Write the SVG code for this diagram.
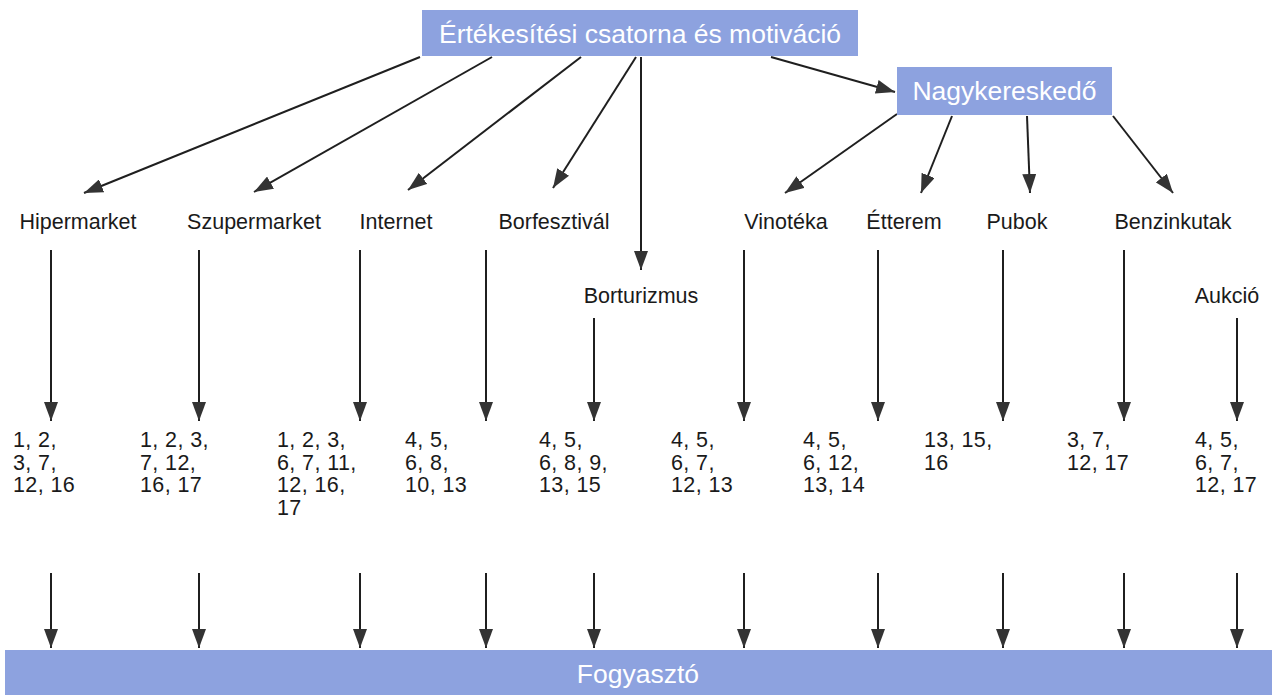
<svg xmlns="http://www.w3.org/2000/svg" width="1272" height="695" viewBox="0 0 1272 695">
<style>
.box{fill:#8da2df}
.bt{font-family:"Liberation Sans",Arial,sans-serif;font-size:26.5px;fill:#ffffff;text-anchor:middle}
.lbl{font-family:"Liberation Sans",Arial,sans-serif;font-size:21.5px;fill:#1a1a1a;text-anchor:middle}
.num{font-family:"Liberation Sans",Arial,sans-serif;font-size:21.5px;letter-spacing:0.4px;fill:#1a1a1a}
.c{stroke:#1f1f1f;stroke-width:2;fill:none;marker-end:url(#ah)}
</style>
<defs>
<marker id="ah" markerUnits="userSpaceOnUse" markerWidth="19" markerHeight="14" refX="19" refY="7" orient="auto">
<path d="M0,0 L19,7 L0,14 z" fill="#333333"/>
</marker>
</defs>
<rect width="1272" height="695" fill="#ffffff"/>

<g id="connectors">
<line class="c" x1="420" y1="57" x2="84" y2="193"/>
<line class="c" x1="492" y1="57" x2="254" y2="192"/>
<line class="c" x1="581" y1="57" x2="408" y2="190"/>
<line class="c" x1="636" y1="57" x2="553" y2="188"/>
<line class="c" x1="641" y1="57" x2="641" y2="270"/>
<line class="c" x1="771" y1="57" x2="895" y2="92"/>
<line class="c" x1="897" y1="114" x2="785" y2="193"/>
<line class="c" x1="952" y1="116" x2="921" y2="193"/>
<line class="c" x1="1027" y1="116" x2="1030" y2="193"/>
<line class="c" x1="1113" y1="116" x2="1173" y2="193"/>

<line class="c" x1="51" y1="250" x2="51" y2="421"/>
<line class="c" x1="199" y1="250" x2="199" y2="421"/>
<line class="c" x1="360" y1="250" x2="360" y2="421"/>
<line class="c" x1="486" y1="250" x2="486" y2="421"/>
<line class="c" x1="594" y1="318" x2="594" y2="421"/>
<line class="c" x1="744" y1="250" x2="744" y2="421"/>
<line class="c" x1="878" y1="250" x2="878" y2="421"/>
<line class="c" x1="1003" y1="250" x2="1003" y2="421"/>
<line class="c" x1="1124" y1="250" x2="1124" y2="421"/>
<line class="c" x1="1237" y1="318" x2="1237" y2="421"/>

<line class="c" x1="51" y1="573" x2="51" y2="648"/>
<line class="c" x1="199" y1="573" x2="199" y2="648"/>
<line class="c" x1="360" y1="573" x2="360" y2="648"/>
<line class="c" x1="486" y1="573" x2="486" y2="648"/>
<line class="c" x1="594" y1="573" x2="594" y2="648"/>
<line class="c" x1="744" y1="573" x2="744" y2="648"/>
<line class="c" x1="878" y1="573" x2="878" y2="648"/>
<line class="c" x1="1003" y1="573" x2="1003" y2="648"/>
<line class="c" x1="1124" y1="573" x2="1124" y2="648"/>
<line class="c" x1="1237" y1="573" x2="1237" y2="648"/>
</g>

<g id="n-top"><rect class="box" x="422" y="10" width="436" height="46"/><text class="bt" x="640" y="43">Értékesítési csatorna és motiváció</text></g>
<g id="n-nagyker"><rect class="box" x="897" y="67" width="215" height="48"/><text class="bt" x="1004.5" y="100">Nagykereskedő</text></g>
<g id="n-fogyaszto"><rect class="box" x="5" y="650" width="1267" height="45"/><text class="bt" x="638" y="683">Fogyasztó</text></g>

<g id="n-hiper"><text class="lbl" x="78" y="229">Hipermarket</text></g>
<g id="n-szuper"><text class="lbl" x="254" y="229">Szupermarket</text></g>
<g id="n-internet"><text class="lbl" x="396" y="229">Internet</text></g>
<g id="n-borfeszt"><text class="lbl" x="554" y="229">Borfesztivál</text></g>
<g id="n-bortur"><text class="lbl" x="641" y="303">Borturizmus</text></g>
<g id="n-vinoteka"><text class="lbl" x="786" y="229">Vinotéka</text></g>
<g id="n-etterem"><text class="lbl" x="904" y="229">Étterem</text></g>
<g id="n-pubok"><text class="lbl" x="1017" y="229">Pubok</text></g>
<g id="n-benzin"><text class="lbl" x="1173" y="229">Benzinkutak</text></g>
<g id="n-aukcio"><text class="lbl" x="1227" y="303">Aukció</text></g>

<g id="num-1"><text class="num" x="13" y="447">1, 2,<tspan x="13" dy="22.5">3, 7,</tspan><tspan x="13" dy="22.5">12, 16</tspan></text></g>
<g id="num-2"><text class="num" x="140" y="447">1, 2, 3,<tspan x="140" dy="22.5">7, 12,</tspan><tspan x="140" dy="22.5">16, 17</tspan></text></g>
<g id="num-3"><text class="num" x="277" y="447">1, 2, 3,<tspan x="277" dy="22.5">6, 7, 11,</tspan><tspan x="277" dy="22.5">12, 16,</tspan><tspan x="277" dy="22.5">17</tspan></text></g>
<g id="num-4"><text class="num" x="405" y="447">4, 5,<tspan x="405" dy="22.5">6, 8,</tspan><tspan x="405" dy="22.5">10, 13</tspan></text></g>
<g id="num-5"><text class="num" x="539" y="447">4, 5,<tspan x="539" dy="22.5">6, 8, 9,</tspan><tspan x="539" dy="22.5">13, 15</tspan></text></g>
<g id="num-6"><text class="num" x="671" y="447">4, 5,<tspan x="671" dy="22.5">6, 7,</tspan><tspan x="671" dy="22.5">12, 13</tspan></text></g>
<g id="num-7"><text class="num" x="803" y="447">4, 5,<tspan x="803" dy="22.5">6, 12,</tspan><tspan x="803" dy="22.5">13, 14</tspan></text></g>
<g id="num-8"><text class="num" x="924" y="447">13, 15,<tspan x="924" dy="22.5">16</tspan></text></g>
<g id="num-9"><text class="num" x="1067" y="447">3, 7,<tspan x="1067" dy="22.5">12, 17</tspan></text></g>
<g id="num-10"><text class="num" x="1195" y="447">4, 5,<tspan x="1195" dy="22.5">6, 7,</tspan><tspan x="1195" dy="22.5">12, 17</tspan></text></g>
</svg>
